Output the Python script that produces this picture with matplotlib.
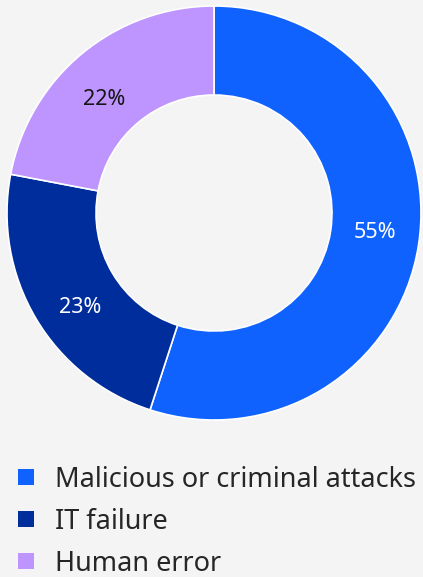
import numpy as np
import matplotlib
matplotlib.use("Agg")
import matplotlib.pyplot as plt
from matplotlib.patches import Rectangle

categories = ["Malicious or criminal attacks", "IT failure", "Human error"]
shares = [55, 23, 22]
colors = ["#0f62fe", "#002d9c", "#be95ff"]
label_colors = ["white", "white", "#161616"]

BG = "#f4f4f4"
W, H, DPI = 423, 577, 100
plt.rcParams["font.family"] = ["Noto Sans", "DejaVu Sans"]

fig = plt.figure(figsize=(W / DPI, H / DPI), dpi=DPI, facecolor=BG)

# donut
ax = fig.add_axes([7 / W, (H - 420) / H, 414 / W, 414 / H])
ax.set_facecolor(BG)
wedges, _ = ax.pie(
    shares,
    colors=colors,
    startangle=90,
    counterclock=False,
    radius=1.0,
    wedgeprops=dict(width=0.43, edgecolor="white", linewidth=1.2),
)
# percentage labels, sitting slightly ahead of each wedge's mid-angle
total = sum(shares)
start = 90.0
for val, col in zip(shares, label_colors):
    span = 360.0 * val / total
    mid = np.deg2rad(start - span / 2 + 3.5)
    r = 0.78
    ax.text(r * np.cos(mid), r * np.sin(mid) - 0.02, f"{val}%", fontsize=15.5,
            color=col, ha="center", va="center")
    start -= span
ax.set_xlim(-1.0, 1.0)
ax.set_ylim(-1.0, 1.0)
ax.set_aspect("equal")
ax.axis("off")

# legend
lax = fig.add_axes([0, 0, 1, 1], facecolor="none")
lax.set_xlim(0, W)
lax.set_ylim(H, 0)
lax.axis("off")
baselines = [487, 529, 571]
for y, name, col in zip(baselines, categories, colors):
    lax.add_patch(Rectangle((18, y - 18), 16, 16, facecolor=col, edgecolor="none"))
    lax.text(55, y, name, fontsize=19.5, color="#262626", va="baseline", ha="left")

fig.savefig("out.png", dpi=DPI, facecolor=BG)
